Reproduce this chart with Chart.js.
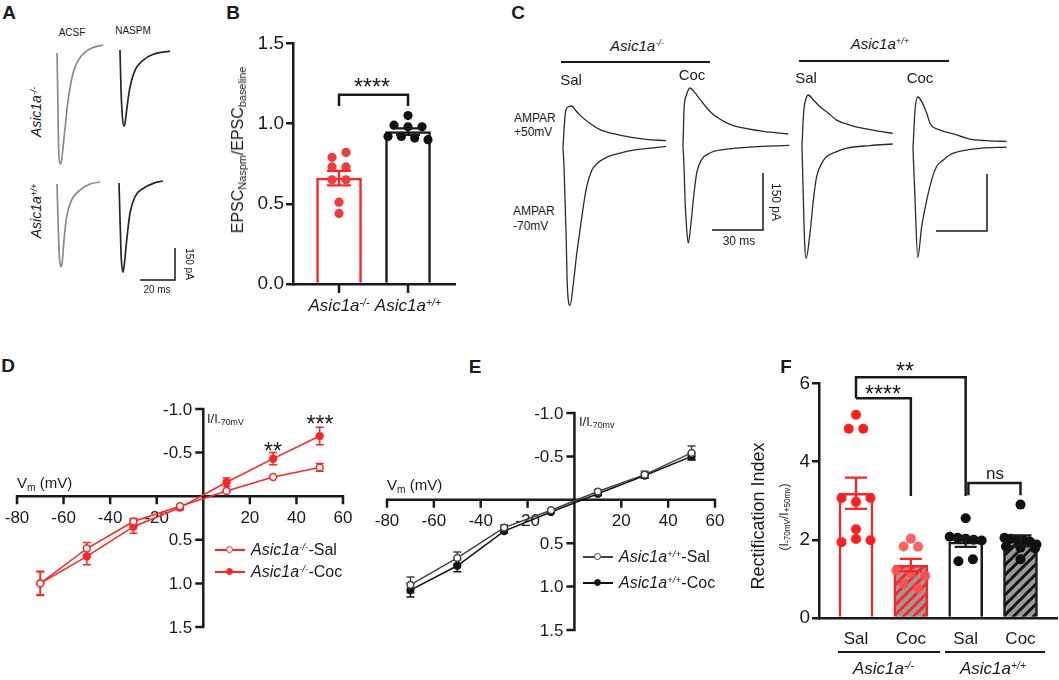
<!DOCTYPE html>
<html><head><meta charset="utf-8">
<script src="https://cdn.jsdelivr.net/npm/chart.js@4.4.1/dist/chart.umd.min.js"></script>
<style>
html,body{margin:0;padding:0;background:#fff;}
#fig{position:relative;width:1059px;height:680px;overflow:hidden;font-family:"Liberation Sans",Arial,sans-serif;color:#1a1a1a;}
canvas{position:absolute;}
.t{position:absolute;white-space:nowrap;line-height:1;}
.sup{font-size:0.62em;position:relative;top:-0.5em;}
.sub{font-size:0.68em;position:relative;top:0.28em;}
.hl{position:absolute;background:#1a1a1a;}
</style></head><body><div id="fig"></div>
<script>
// ================= DATA =================
const gene = 'Asic1a';
const genotypes = ['-/-', '+/+'];
const treatments = ['Sal', 'Coc', 'Sal', 'Coc'];
const fGenotypes = ['-/-', '-/-', '+/+', '+/+'];

// Panel A traces [time ms, current pA]
const aKoAcsf  = [[0,-38],[0.4,-211],[0.7,-398],[1.1,-516],[1.7,-558],[2.5,-548],[3.4,-483],[4.6,-389],[6.0,-281],[7.7,-188],[9.7,-117],[12.6,-66],[16,-33],[20,-14],[26.3,0]];
const aKoNaspm = [[0,5],[0.6,-183],[1.3,-300],[2.3,-352],[3.0,-333],[3.8,-277],[5.7,-169],[8.6,-89],[13.3,-42],[19,-15],[28.6,0]];
const aWtAcsf  = [[0,-9],[0.6,-178],[1.3,-342],[2.3,-398],[3.0,-375],[4.0,-272],[5.5,-163],[8.4,-84],[13.1,-38],[18.9,-9],[24.6,0]];
const aWtNaspm = [[0,-9],[0.6,-183],[1.3,-361],[2.3,-427],[3.0,-394],[4.4,-277],[6.3,-150],[9.1,-74],[14,-34],[19.6,-11],[25.1,0]];
const scaleBarA = {ms:20, pA:150};

// Panel C traces [time ms, current pA]
const cKoSalUp   = [[0,0],[0.8,60],[1.6,97],[3.2,107],[5.1,109],[7.5,97],[10,85],[15.9,63],[21.8,47],[29.6,36],[39.4,27],[49,21],[60.6,18]];
const cKoSalDown = [[0,0],[0.6,-52],[1.8,-226],[2.5,-358],[4.1,-416],[6.1,-358],[8.1,-279],[10,-218],[11.9,-157],[13.9,-104],[16.9,-61],[19.8,-43],[25.7,-26],[33.5,-15],[43.4,-6],[53.1,-1],[60.6,3]];
const cKoCocUp   = [[0,0],[0.6,97],[2,135],[4.1,154],[7.1,141],[10,124],[13.9,102],[17.8,84],[23.7,67],[29.6,55],[37.5,47],[47.3,40],[61.9,33]];
const cKoCocDown = [[0,0],[0.5,-40],[1.2,-139],[2.2,-220],[3.1,-254],[4.5,-210],[6.1,-139],[8.1,-69],[11,-34],[15.9,-17],[23.7,-8],[37.5,-2],[62.5,3]];
const cWtSalUp   = [[0,0],[1.0,90],[2.2,122],[3.7,134],[6.7,121],[10.6,103],[15.5,86],[20.4,68],[28.2,55],[36.1,46],[45.9,38],[53.4,33]];
const cWtSalDown = [[0,0],[0.8,-142],[1.6,-260],[2.4,-296],[4.7,-230],[6.7,-142],[8.6,-81],[11.6,-46],[14.5,-28],[20.4,-15],[26.3,-6],[40,1],[53.4,5]];
const cWtCocUp   = [[0,0],[1.2,100],[2.9,134],[5.1,122],[8.1,91],[10,65],[15.9,47],[23.7,37],[33.5,23],[43.3,19],[55.1,17]];
const cWtCocDown = [[0,0],[1.2,-137],[2.8,-288],[5.1,-207],[8.1,-137],[11,-84],[13.9,-49],[17.8,-32],[21.8,-18],[29.6,-7],[39.4,-1],[55.1,2]];
const scaleBarC = {ms:30, pA:150};

// Panel B: EPSC Naspm / EPSC baseline
const bMean = [0.66, 0.95];
const bSem  = [0.045, 0.02];
const bDotsKo = [0.79, 0.82, 0.73, 0.73, 0.65, 0.65, 0.51, 0.44];
const bDotsWt = [1.05, 0.99, 0.98, 0.98, 0.92, 0.92, 0.91, 0.90];
const bYTicks = [0, 0.5, 1.0, 1.5];

// Panels D/E: I-V relations
const ivVm = [-70, -50, -30, -10, 10, 30, 50];
const ivXTicks = [-80, -60, -40, -20, 0, 20, 40, 60];
const ivYTicks = [-1.0, -0.5, 0.5, 1.0, 1.5];
const dKoSal    = [1.0, 0.60, 0.29, 0.115, -0.06, -0.22, -0.33];
const dKoSalSem = [0.13, 0.07, 0.035, 0.02, 0.01, 0.015, 0.045];
const dKoCoc    = [1.0, 0.69, 0.35, 0.13, -0.16, -0.43, -0.69];
const dKoCocSem = [0.14, 0.095, 0.075, 0.025, 0.05, 0.07, 0.10];
const eWtSal    = [0.98, 0.67, 0.32, 0.12, -0.095, -0.29, -0.54];
const eWtSalSem = [0.09, 0.07, 0.03, 0.015, 0.02, 0.04, 0.08];
const eWtCoc    = [1.04, 0.76, 0.36, 0.14, -0.07, -0.28, -0.50];
const eWtCocSem = [0.08, 0.07, 0.02, 0.015, 0.02, 0.03, 0.04];

// Panel F: rectification index
const fMean = [3.19, 1.35, 1.94, 1.97];
const fSem  = [0.40, 0.16, 0.12, 0.14];
const fDotsKoSal = [5.2, 4.84, 4.84, 3.07, 2.97, 3.07, 2.27, 1.94, 2.02, 1.99];
const fDotsKoCoc = [2.03, 1.83, 1.82, 1.22, 1.15, 1.08, 0.88, 0.75];
const fDotsWtSal = [2.55, 2.08, 2.05, 2.03, 2.0, 1.98, 1.45, 1.5];
const fDotsWtCoc = [2.9, 2.05, 2.03, 2.0, 1.98, 1.95, 1.88, 1.83, 1.8, 1.78, 1.5];
const fYTicks = [0, 2, 4, 6];

// ================= SETUP =================
const RED = '#ff2424', INK = '#1a1a1a';
const fig = document.getElementById('fig');
Chart.defaults.font.family = '"Liberation Sans", Arial, sans-serif';
Chart.defaults.color = INK;
Chart.defaults.animation = false;
Chart.defaults.plugins.legend.display = false;
Chart.defaults.plugins.tooltip.enabled = false;

function mkCanvas(l, t, w, h) {
  const c = document.createElement('canvas');
  c.width = w; c.height = h;
  Object.assign(c.style, {left: l + 'px', top: t + 'px', width: w + 'px', height: h + 'px'});
  fig.appendChild(c); return c;
}
function txt(html, x, y, size, o = {}) {
  const d = document.createElement('div');
  d.className = 't'; d.innerHTML = html;
  d.style.fontSize = size + 'px';
  if (o.bold) d.style.fontWeight = 'bold';
  if (o.italic) d.style.fontStyle = 'italic';
  const ax = o.align === 'left' ? '0%' : o.align === 'right' ? '-100%' : '-50%';
  d.style.left = x + 'px'; d.style.top = y + 'px';
  d.style.transform = `translate(${ax},-50%)` + (o.rot ? ` rotate(${o.rot}deg)` : '');
  fig.appendChild(d); return d;
}
function hline(x1, x2, y, w, color) {
  const d = document.createElement('div'); d.className = 'hl';
  Object.assign(d.style, {left: x1 + 'px', top: (y - w / 2) + 'px', width: (x2 - x1) + 'px', height: w + 'px', background: color || INK});
  fig.appendChild(d);
}
const asic = g => `<i>${gene}<span class="sup">${g}</span></i>`;

// ---------- trace charts ----------
function traceChart(x0, y0, msPx, paPx, series) {
  let tmin = Infinity, tmax = -Infinity, imin = Infinity, imax = -Infinity;
  series.forEach(s => s.data.forEach(([t, i]) => {
    tmin = Math.min(tmin, t); tmax = Math.max(tmax, t); imin = Math.min(imin, i); imax = Math.max(imax, i);
  }));
  const m = 4;
  const w = Math.ceil((tmax - tmin) * msPx + 2 * m), h = Math.ceil((imax - imin) * paPx + 2 * m);
  const left = Math.round(x0 + tmin * msPx - m), top = Math.round(y0 - imax * paPx - m);
  const c = mkCanvas(left, top, w, h);
  const xmin = tmin - m / msPx, xmax = xmin + w / msPx, ymax = imax + m / paPx, ymin = ymax - h / paPx;
  new Chart(c, {
    type: 'line',
    data: {datasets: series.map(s => ({
      data: s.data.map(([t, i]) => ({x: t, y: i})),
      borderColor: s.color, borderWidth: s.width, pointRadius: 0, fill: false,
      cubicInterpolationMode: s.straight ? 'default' : 'monotone', tension: 0, borderCapStyle: 'butt', borderJoinStyle: 'miter'
    }))},
    options: {responsive: false, devicePixelRatio: 1, layout: {padding: 0},
      scales: {x: {type: 'linear', display: false, min: xmin, max: xmax},
               y: {type: 'linear', display: false, min: ymin, max: ymax}}}
  });
}
const barL = sb => [[0, 0], [sb.ms, 0], [sb.ms, sb.pA]];

// Panel A
const A_MS = 1.75, A_PA = 32 / 150;
traceChart(57, 45, A_MS, A_PA, [{data: aKoAcsf, color: '#8a8a8a', width: 1.7}]);
traceChart(120, 51, A_MS, A_PA, [{data: aKoNaspm, color: '#262626', width: 1.7}]);
traceChart(57, 182, A_MS, A_PA, [{data: aWtAcsf, color: '#8a8a8a', width: 1.7}]);
traceChart(119, 181, A_MS, A_PA, [{data: aWtNaspm, color: '#262626', width: 1.7}]);
traceChart(140, 280, A_MS, A_PA, [{data: barL(scaleBarA), color: INK, width: 1.5, straight: true}]);

// Panel C
const C_MS = 1.7, C_PA = 57 / 150, CT = '#2b2b2b';
traceChart(563, 147, C_MS, C_PA, [{data: cKoSalUp, color: CT, width: 1.3}, {data: cKoSalDown, color: CT, width: 1.3}]);
traceChart(683, 147, C_MS, C_PA, [{data: cKoCocUp, color: CT, width: 1.3}, {data: cKoCocDown, color: CT, width: 1.3}]);
traceChart(802, 146, C_MS, C_PA, [{data: cWtSalUp, color: CT, width: 1.3}, {data: cWtSalDown, color: CT, width: 1.3}]);
traceChart(913, 148, C_MS, C_PA, [{data: cWtCocUp, color: CT, width: 1.3}, {data: cWtCocDown, color: CT, width: 1.3}]);
traceChart(712, 230, C_MS, C_PA, [{data: barL(scaleBarC), color: INK, width: 1.5, straight: true}]);
traceChart(936, 231, C_MS, C_PA, [{data: barL(scaleBarC), color: INK, width: 1.5, straight: true}]);

// ---------- bar charts (B, F) ----------
function swarm(vals, yScale, cx, rowTol, sp, maxSpan) {
  const pts = vals.map((v, k) => ({v, k, y: yScale.getPixelForValue(v)})).sort((a, b) => a.y - b.y);
  const rows = []; let cur = null;
  for (const p of pts) {
    if (cur && p.y - cur.y0 < rowTol) cur.items.push(p);
    else { cur = {y0: p.y, items: [p]}; rows.push(cur); }
  }
  const out = [];
  rows.forEach(r => {
    r.items.sort((a, b) => a.k - b.k);
    const n = r.items.length, s = n > 1 ? Math.min(sp, maxSpan / (n - 1)) : 0;
    r.items.forEach((p, i) => out.push({x: cx + (i - (n - 1) / 2) * s, y: p.y}));
  });
  return out;
}
function barExtras(cfg) {
  return {id: 'barExtras', afterDatasetsDraw(chart) {
    const {ctx, chartArea: a, scales: {x, y}} = chart;
    ctx.save();
    if (cfg.xTickMarks) {
      ctx.strokeStyle = INK; ctx.lineWidth = 2.5; ctx.beginPath();
      cfg.means.forEach((_, i) => { const px = x.getPixelForValue(i); ctx.moveTo(px, a.bottom); ctx.lineTo(px, a.bottom + 9); });
      ctx.stroke();
    }
    cfg.dots.forEach((vals, i) => {
      ctx.fillStyle = cfg.dotColors[i];
      swarm(vals, y, x.getPixelForValue(i), cfg.rowTol, cfg.dotSp, cfg.maxSpan).forEach(p => {
        ctx.beginPath(); ctx.arc(p.x, p.y, cfg.dotR, 0, Math.PI * 2); ctx.fill();
      });
    });
    ctx.lineWidth = 2.3;
    cfg.means.forEach((m, i) => {
      const px = x.getPixelForValue(i), lo = y.getPixelForValue(m - cfg.sems[i]), hi = y.getPixelForValue(m + cfg.sems[i]);
      ctx.strokeStyle = cfg.borders[i];
      ctx.beginPath();
      ctx.moveTo(px, lo); ctx.lineTo(px, hi);
      ctx.moveTo(px - cfg.capW / 2, lo); ctx.lineTo(px + cfg.capW / 2, lo);
      ctx.moveTo(px - cfg.capW / 2, hi); ctx.lineTo(px + cfg.capW / 2, hi);
      ctx.stroke();
    });
    ctx.strokeStyle = INK; ctx.lineWidth = 2.5; ctx.lineJoin = 'miter';
    cfg.brackets.forEach(path => {
      ctx.beginPath();
      path.forEach(([gi, v], k) => {
        const px = x.getPixelForValue(gi), py = y.getPixelForValue(v);
        k ? ctx.lineTo(px, py) : ctx.moveTo(px, py);
      });
      ctx.stroke();
    });
    ctx.restore();
  }};
}
function barChart(cfg) {
  const c = mkCanvas(cfg.left, cfg.top, cfg.w, cfg.h);
  const axisStyle = {color: INK, lineWidth: 2.5};
  return new Chart(c, {
    type: 'bar',
    data: {datasets: [{data: cfg.means.map((m, i) => ({x: i, y: m})), backgroundColor: cfg.fills, borderColor: cfg.borders,
      borderWidth: 2.5, barThickness: cfg.barW, borderSkipped: 'start'}]},
    options: {responsive: false, devicePixelRatio: 1, layout: {padding: cfg.pad},
      scales: {
        x: {type: 'linear', min: cfg.xmin, max: cfg.xmax, offset: false,
            afterBuildTicks: s => { s.ticks = []; },
            afterFit: s => { s.height = cfg.xAxisH; },
            ticks: {display: false},
            grid: {display: false, offset: false},
            border: {display: true, color: INK, width: 2.5}},
        y: {type: 'linear', min: cfg.yTicks[0], max: cfg.yTicks[cfg.yTicks.length - 1],
            afterBuildTicks: s => { s.ticks = cfg.yTicks.map(v => ({value: v})); },
            afterFit: s => { s.width = cfg.yAxisW; },
            ticks: {font: {size: cfg.fontSize}, color: INK, padding: 2, callback: v => Number(v).toFixed(cfg.decimals)},
            grid: {display: true, drawOnChartArea: false, drawTicks: true, tickLength: 7, ...axisStyle},
            border: {display: true, color: INK, width: 2.5}}
      }},
    plugins: [barExtras(cfg)]
  });
}
function hatch(bg, fg) {
  const c = document.createElement('canvas'); c.width = c.height = 10;
  const x = c.getContext('2d');
  x.fillStyle = bg; x.fillRect(0, 0, 10, 10);
  x.strokeStyle = fg; x.lineWidth = 3;
  x.beginPath(); x.moveTo(-2, 12); x.lineTo(12, -2); x.moveTo(-2, 2); x.lineTo(2, -2); x.moveTo(8, 12); x.lineTo(12, 8); x.stroke();
  return x.createPattern(c, 'repeat');
}

// Panel B
const chartB = barChart({left: 222, top: 30, w: 240, h: 284, yAxisW: 71, xAxisH: 30, pad: {left: 0, right: 7, top: 13, bottom: 0},
  xmin: -0.667, xmax: 1.681, yTicks: bYTicks, decimals: 1, fontSize: 19, xTickMarks: true,
  means: bMean, sems: bSem, borders: [RED, INK], fills: ['#fff', '#fff'], barW: 45,
  dots: [bDotsKo, bDotsWt], dotColors: ['#f23a3a', '#111'], dotR: 4.6, rowTol: 8, dotSp: 14, maxSpan: 40, capW: 24,
  brackets: [[[0, 1.11], [0, 1.18], [1, 1.18], [1, 1.11]]]});

// Panel F
const chartF = barChart({left: 790, top: 370, w: 269, h: 290, yAxisW: 29, xAxisH: 42, pad: {left: 0, right: 2, top: 13, bottom: 0},
  xmin: -0.675, xmax: 3.666, yTicks: fYTicks, decimals: 0, fontSize: 19, xTickMarks: false,
  means: fMean, sems: fSem, borders: [RED, RED, INK, INK],
  fills: ['#fff', hatch('#9a9a9a', RED), '#fff', hatch('#9a9a9a', '#111')], barW: 34,
  dots: [fDotsKoSal, fDotsKoCoc, fDotsWtSal, fDotsWtCoc], dotColors: ['#ff1f1f', 'rgba(255,80,80,0.9)', '#111', '#111'],
  dotR: 5, rowTol: 7, dotSp: 14.5, maxSpan: 32, capW: 22,
  brackets: [[[0, 5.62], [0, 6.16], [2, 6.16], [2, 3.12]],
             [[0, 5.62], [1, 5.62], [1, 3.12]],
             [[2.05, 3.14], [2.05, 3.45], [3, 3.45], [3, 3.14]]]});

// ---------- I-V charts (D, E) ----------
const ivAxes = {id: 'ivAxes', beforeDatasetsDraw(chart) {
  const {ctx, chartArea: a, scales: {x, y}} = chart;
  const x0 = x.getPixelForValue(0), y0 = y.getPixelForValue(0);
  ctx.save(); ctx.strokeStyle = INK; ctx.lineWidth = 2.5;
  ctx.beginPath();
  ctx.moveTo(a.left - 1.2, y0); ctx.lineTo(a.right + 1.2, y0);
  ctx.moveTo(x0, a.top - 1.2); ctx.lineTo(x0, a.bottom + 1.2);
  ivXTicks.forEach(v => { if (v === 0) return; const px = x.getPixelForValue(v); ctx.moveTo(px, y0); ctx.lineTo(px, y0 + 8); });
  ivYTicks.forEach(v => { const py = y.getPixelForValue(v); ctx.moveTo(x0, py); ctx.lineTo(x0 - 8, py); });
  ctx.stroke();
  ctx.fillStyle = INK; ctx.font = '17px "Liberation Sans", Arial, sans-serif';
  ctx.textAlign = 'center'; ctx.textBaseline = 'middle';
  ivXTicks.forEach(v => { if (v !== 0) ctx.fillText(String(v), x.getPixelForValue(v), y0 + 22); });
  ctx.textAlign = 'right';
  ivYTicks.forEach(v => ctx.fillText(v.toFixed(1), x0 - 11, y.getPixelForValue(v) + 1));
  ctx.restore();
}};
const ivErr = {id: 'ivErr', beforeDatasetsDraw(chart) {
  const {ctx, scales: {x, y}} = chart;
  ctx.save(); ctx.lineWidth = 1.5;
  chart.data.datasets.forEach(ds => {
    ctx.strokeStyle = ds.borderColor; ctx.beginPath();
    ds.data.forEach((p, i) => {
      const e = ds.sem[i], px = x.getPixelForValue(p.x), lo = y.getPixelForValue(p.y - e), hi = y.getPixelForValue(p.y + e);
      ctx.moveTo(px, lo); ctx.lineTo(px, hi);
      ctx.moveTo(px - 4, lo); ctx.lineTo(px + 4, lo); ctx.moveTo(px - 4, hi); ctx.lineTo(px + 4, hi);
    });
    ctx.stroke();
  });
  ctx.restore();
}};
function ivChart(left, top, w, h, pad, series) {
  const c = mkCanvas(left, top, w, h);
  new Chart(c, {type: 'line',
    data: {datasets: series.map(s => ({data: ivVm.map((v, i) => ({x: v, y: s.vals[i]})), sem: s.sem,
      borderColor: s.color, borderWidth: 1.5, pointRadius: 3.4, pointBackgroundColor: s.open ? '#fff' : s.color,
      pointBorderColor: s.color, pointBorderWidth: 1.5, tension: 0, order: s.order}))},
    options: {responsive: false, devicePixelRatio: 1, layout: {padding: pad},
      scales: {x: {type: 'linear', display: false, min: ivXTicks[0], max: ivXTicks[ivXTicks.length - 1]},
               y: {type: 'linear', display: false, min: ivYTicks[0], max: ivYTicks[ivYTicks.length - 1], reverse: true}}},
    plugins: [ivAxes, ivErr]});
}
ivChart(0, 380, 370, 270, {left: 17, right: 27, top: 29, bottom: 23},
  [{vals: dKoSal, sem: dKoSalSem, color: RED, open: true, order: 1}, {vals: dKoCoc, sem: dKoCocSem, color: RED, open: false, order: 2}]);
ivChart(370, 380, 370, 270, {left: 17, right: 25, top: 33, bottom: 20},
  [{vals: eWtSal, sem: eWtSalSem, color: '#444', open: true, order: 1}, {vals: eWtCoc, sem: eWtCocSem, color: '#111', open: false, order: 2}]);

// ================= TEXT =================
// Panel A
txt('A', 9, 12, 19, {bold: true});
txt('ACSF', 72, 33, 10);
txt('NASPM', 133, 31, 10);
txt(asic(genotypes[0]), 36, 112, 14, {rot: -90});
txt(asic(genotypes[1]), 36, 211, 14, {rot: -90});
txt(scaleBarA.pA + ' pA', 189, 264, 10, {rot: 90});
txt(scaleBarA.ms + ' ms', 157, 290, 10);

// Panel B
txt('B', 233, 12, 19, {bold: true});
txt('EPSC<span class="sub">Naspm</span>/EPSC<span class="sub">baseline</span>', 238, 150, 16, {rot: -90});
txt('****', 372, 87, 23);
genotypes.forEach((g, i) => txt(asic(g), 222 + chartB.scales.x.getPixelForValue(i), 305, 17));

// Panel C
txt('C', 518, 12, 19, {bold: true});
txt(asic(genotypes[0]), 637, 46, 15);
txt(asic(genotypes[1]), 880, 44, 15);
hline(561, 710, 62, 1.5); hline(799, 949, 61, 1.5);
txt('Sal', 571, 79, 15); txt('Coc', 692, 74, 15); txt('Sal', 806, 77, 15); txt('Coc', 920, 77, 15);
txt('AMPAR', 514, 118, 12, {align: 'left'}); txt('+50mV', 514, 132, 12, {align: 'left'});
txt('AMPAR', 513, 211, 12, {align: 'left'}); txt('-70mV', 513, 226, 12, {align: 'left'});
txt(scaleBarC.pA + ' pA', 776, 202, 12, {rot: 90});
txt(scaleBarC.ms + ' ms', 739, 241, 12);

// Panel D
txt('D', 8, 365, 19, {bold: true});
txt('V<span class="sub">m</span> (mV)', 17, 483, 15, {align: 'left'});
txt('I/I<span class="sub">-70mV</span>', 207, 418, 13, {align: 'left'});
txt('**', 273, 451, 23); txt('***', 320, 424, 23);
function legendItem(x1, x2, y, color, open, html) {
  hline(x1, x2, y, 1.5, color);
  const d = document.createElement('div');
  Object.assign(d.style, {position: 'absolute', left: ((x1 + x2) / 2 - 4) + 'px', top: (y - 4) + 'px', width: '5px', height: '5px',
    border: '1.5px solid ' + color, borderRadius: '50%', background: open ? '#fff' : color});
  fig.appendChild(d);
  txt(html, x2 + 6, y, 16, {align: 'left'});
}
legendItem(215, 245, 550, RED, true, asic(genotypes[0]) + '-Sal');
legendItem(215, 245, 572, RED, false, asic(genotypes[0]) + '-Coc');

// Panel E
txt('E', 475, 366, 19, {bold: true});
txt('V<span class="sub">m</span> (mV)', 387, 485, 15, {align: 'left'});
txt('I/I<span class="sub">-70mv</span>', 579, 421, 13, {align: 'left'});
legendItem(583, 613, 557, '#444', true, asic(genotypes[1]) + '-Sal');
legendItem(583, 613, 583, '#111', false, asic(genotypes[1]) + '-Coc');

// Panel F
txt('F', 786, 366, 19, {bold: true});
txt('Rectification Index', 758, 516, 18, {rot: -90});
txt('(I<span class="sub">-70mV</span>/I<span class="sub">+50mv</span>)', 784, 517, 12, {rot: -90});
txt('**', 905, 371, 23); txt('****', 883, 394, 23); txt('ns', 995, 473, 17);
treatments.forEach((t, i) => txt(t, 790 + chartF.scales.x.getPixelForValue(i), 638, 17));
hline(838, 940, 652, 2.5); hline(945, 1045, 652, 2.5);
[0, 2].forEach(i => {
  const cx = 790 + (chartF.scales.x.getPixelForValue(i) + chartF.scales.x.getPixelForValue(i + 1)) / 2;
  txt(asic(fGenotypes[i]), cx, 668, 17);
});
</script></body></html>
